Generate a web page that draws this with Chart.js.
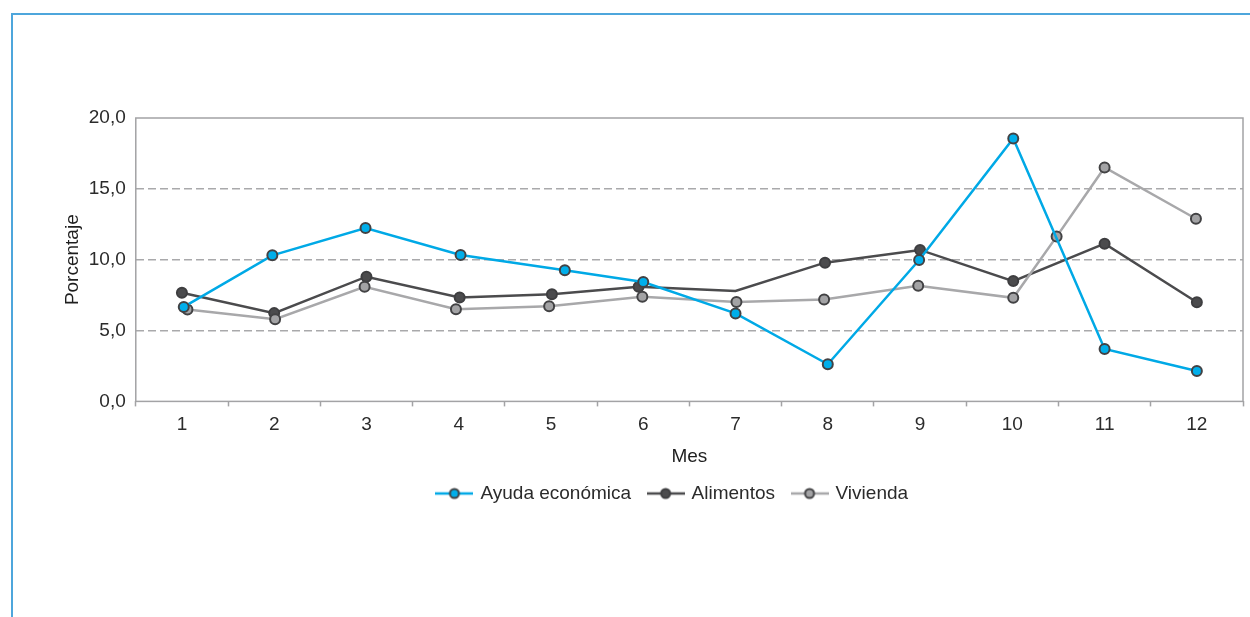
<!DOCTYPE html>
<html lang="es">
<head>
<meta charset="utf-8">
<title>Porcentaje por mes</title>
<script src="https://cdn.jsdelivr.net/npm/chart.js@4/dist/chart.umd.min.js"></script>
<style>
  html, body { margin: 0; padding: 0; background: #ffffff; }
  #wrap { position: relative; width: 1250px; height: 617px; overflow: hidden; }
  #frame {
    position: absolute; left: 11px; top: 13px; width: 1400px; height: 800px;
    border-left: 2px solid #4ea6dc; border-top: 2px solid #4ea6dc;
    box-sizing: border-box; pointer-events: none;
  }
  canvas { position: absolute; left: 0; top: 0; }
</style>
</head>
<body>
<div id="wrap">
  <div id="frame"></div>
  <canvas id="chart" width="1250" height="617"></canvas>
</div>
<script>
// Month labels on the horizontal axis
const months = ['1', '2', '3', '4', '5', '6', '7', '8', '9', '10', '11', '12'];
const yTicks = [0, 5, 10, 15, 20];

// Ayuda económica
const ayudaX = [1.02, 1.98, 2.99, 4.02, 5.15, 6.00, 7.00, 8.00, 8.99, 10.01, 11.00, 12.00];
const ayudaY = [6.67, 10.31, 12.24, 10.33, 9.25, 8.42, 6.21, 2.62, 9.98, 18.56, 3.70, 2.14];

// Alimentos (month 7 drawn without a marker)
const alimentosX = [1.00, 2.00, 3.00, 4.01, 5.01, 5.95, 7.00, 7.97, 9.00, 10.01, 11.00, 12.00];
const alimentosY = [7.67, 6.23, 8.80, 7.34, 7.57, 8.09, 7.80, 9.79, 10.69, 8.49, 11.13, 7.00];
const alimentosMarker = [true, true, true, true, true, true, false, true, true, true, true, true];

// Vivienda
const viviendaX = [1.06, 2.01, 2.98, 3.97, 4.98, 5.99, 7.01, 7.96, 8.98, 10.01, 10.48, 11.00, 11.99];
const viviendaY = [6.49, 5.80, 8.09, 6.51, 6.72, 7.38, 7.02, 7.19, 8.16, 7.31, 11.63, 16.51, 12.89];

const FONT = "'Liberation Sans', Arial, sans-serif";
const FS = 19;
const TEXT = '#2b2b2b';
const AXIS = '#a3a3a5';
const MARKER_EDGE = '#424244';
const LEGEND_CENTER = 673;

const toPoints = (xs, ys) => xs.map((x, i) => ({ x, y: ys[i] }));

// Legend swatch: short line with a round marker in the middle
function swatch(lineColor, fill, edge) {
  const c = document.createElement('canvas');
  c.width = 38; c.height = 14;
  const g = c.getContext('2d');
  g.strokeStyle = lineColor; g.lineWidth = 2.5;
  g.beginPath(); g.moveTo(0, 7); g.lineTo(38, 7); g.stroke();
  g.fillStyle = fill; g.strokeStyle = edge; g.lineWidth = 2;
  g.beginPath(); g.arc(19, 7, 4.5, 0, Math.PI * 2); g.fill(); g.stroke();
  return c;
}

const series = [
  { label: 'Ayuda económica', line: '#00a9e6', fill: '#00aeea', edge: MARKER_EDGE, xs: ayudaX, ys: ayudaY, order: 1 },
  { label: 'Alimentos', line: '#4b4b4d', fill: '#4b4b4d', edge: '#3e3e40', xs: alimentosX, ys: alimentosY, order: 3, marker: alimentosMarker },
  { label: 'Vivienda', line: '#a8a8aa', fill: '#a3a3a5', edge: MARKER_EDGE, xs: viviendaX, ys: viviendaY, order: 2 }
];

const datasets = series.map(s => ({
  label: s.label,
  data: toPoints(s.xs, s.ys),
  borderColor: s.line,
  backgroundColor: s.fill,
  borderWidth: 2.5,
  pointRadius: s.marker ? s.marker.map(m => (m ? 5 : 0)) : 5,
  pointHoverRadius: 5,
  pointBackgroundColor: s.fill,
  pointBorderColor: s.edge,
  pointBorderWidth: 2,
  tension: 0,
  order: s.order,
  showLine: true,
  swatch: swatch(s.line, s.fill, s.edge)
}));

// Solid box around the plotting area
const plotFrame = {
  id: 'plotFrame',
  beforeDatasetsDraw(chart) {
    const { ctx, chartArea: a } = chart;
    ctx.save();
    ctx.strokeStyle = AXIS;
    ctx.lineWidth = 1.5;
    ctx.strokeRect(a.left, a.top, a.right - a.left, a.bottom - a.top);
    ctx.restore();
  }
};

// Legend row is centred a little to the right of the canvas middle
const legendShift = {
  id: 'legendShift',
  afterLayout(chart) {
    const lg = chart.legend;
    if (!lg) return;
    const dx = LEGEND_CENTER - (lg.left + lg.right) / 2;
    lg.left += dx;
    lg.right += dx;
  }
};

new Chart(document.getElementById('chart'), {
  type: 'line',
  data: { datasets },
  plugins: [plotFrame, legendShift],
  options: {
    responsive: false,
    animation: false,
    devicePixelRatio: 1,
    layout: { padding: { top: 118, left: 57, right: -1, bottom: 104 } },
    plugins: {
      tooltip: { enabled: false },
      legend: {
        position: 'bottom',
        labels: {
          usePointStyle: true,
          pointStyleWidth: 33,
          padding: 18,
          color: TEXT,
          font: { family: FONT, size: FS },
          generateLabels(chart) {
            return chart.data.datasets.map((d, i) => ({
              text: d.label,
              pointStyle: d.swatch,
              fillStyle: d.backgroundColor,
              strokeStyle: d.borderColor,
              lineWidth: 0,
              fontColor: TEXT,
              hidden: false,
              datasetIndex: i
            }));
          }
        }
      }
    },
    scales: {
      x: {
        type: 'linear',
        min: 0.5,
        max: 12.5,
        afterBuildTicks(scale) {
          const t = [];
          for (let i = 0; i <= months.length * 2; i++) t.push({ value: 0.5 + i * 0.5 });
          scale.ticks = t;
        },
        ticks: {
          autoSkip: false,
          maxRotation: 0,
          padding: 7,
          color: TEXT,
          font: { family: FONT, size: FS },
          callback(v) {
            return Number.isInteger(v) ? months[v - 1] : '';
          }
        },
        grid: {
          drawOnChartArea: false,
          drawTicks: true,
          tickLength: 5,
          tickWidth: 1.5,
          tickColor: ctx => (Number.isInteger(ctx.tick.value) ? 'rgba(0,0,0,0)' : AXIS)
        },
        border: { display: false },
        title: {
          display: true,
          text: 'Mes',
          color: '#1e1e1e',
          font: { family: FONT, size: FS },
          padding: { top: 2, bottom: -2 }
        }
      },
      y: {
        min: 0,
        max: 20,
        afterBuildTicks(scale) {
          scale.ticks = yTicks.map(v => ({ value: v }));
        },
        ticks: {
          padding: 10,
          color: TEXT,
          font: { family: FONT, size: FS },
          callback: v => v.toFixed(1).replace('.', ',')
        },
        grid: {
          drawTicks: false,
          lineWidth: 1.5,
          color: ctx => (ctx.tick.value === 0 || ctx.tick.value === 20 ? 'rgba(0,0,0,0)' : '#a9a9ab')
        },
        border: { display: false, dash: [8, 4] },
        title: {
          display: true,
          text: 'Porcentaje',
          color: '#1e1e1e',
          font: { family: FONT, size: FS },
          padding: { top: 4, bottom: -5 }
        }
      }
    }
  }
});
</script>
</body>
</html>
